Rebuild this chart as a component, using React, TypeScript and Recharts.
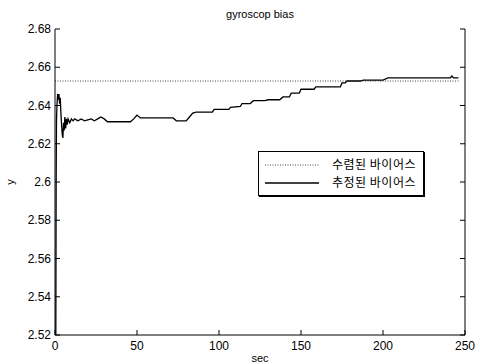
import React from "react";
import { LineChart, Line, XAxis, YAxis } from "recharts";

// time axis (sec) and estimated gyro bias
const estT = [
  0.5, 0.7, 0.9, 1.2, 1.6, 2.0, 2.4, 2.8, 3.2, 3.6, 4.0, 4.4, 4.8, 5.2, 5.6, 6.0, 6.5, 7.0, 7.5, 8.0,
  9, 10, 11, 12, 14, 16, 18, 20, 22, 24, 26, 28, 30, 32, 40, 46, 48, 50, 52, 60, 72, 74, 80, 82,
  84, 86, 96, 97, 106, 107, 113, 114, 119, 121, 128, 130, 137, 139, 143, 144, 149, 150, 158, 159,
  174, 175, 177, 178, 186, 188, 200, 203, 241, 242, 243, 246,
];
const estV = [
  2.52, 2.6, 2.632, 2.64, 2.646, 2.643, 2.646, 2.641, 2.644, 2.636, 2.63, 2.625, 2.623, 2.631,
  2.627, 2.634, 2.628, 2.633, 2.63, 2.633, 2.631, 2.633, 2.632, 2.633, 2.632, 2.633, 2.632, 2.6325,
  2.633, 2.632, 2.633, 2.634, 2.633, 2.6315, 2.6315, 2.6315, 2.633, 2.635, 2.6335, 2.6335, 2.6335,
  2.632, 2.632, 2.634, 2.636, 2.6365, 2.6365, 2.638, 2.638, 2.639, 2.6395, 2.641, 2.641, 2.6425,
  2.6425, 2.643, 2.643, 2.6445, 2.6445, 2.6465, 2.6465, 2.6485, 2.6485, 2.6497, 2.6497, 2.6518,
  2.6518, 2.6528, 2.6528, 2.6533, 2.6533, 2.6544, 2.6544, 2.6554, 2.6544, 2.6544,
];
// converged bias
const convT = [0, 246];
const convV = [2.6528, 2.6528];

const xTicks = [0, 50, 100, 150, 200, 250];
const yTicks = [2.52, 2.54, 2.56, 2.58, 2.6, 2.62, 2.64, 2.66, 2.68];
const legendNames = ["수렴된 바이어스", "추정된 바이어스"];

const estData = estT.map((t, i) => ({ t, v: estV[i] }));
const convData = convT.map((t, i) => ({ t, v: convV[i] }));

const FONT = "'Liberation Sans', Arial, sans-serif";
const KFONT = "'Noto Sans CJK KR', sans-serif";

const BottomTick = (props: any) => {
  const { x, y, payload } = props;
  return (
    <g>
      <line x1={x} y1={y} x2={x} y2={y - 5} stroke="#000" />
      <text x={x} y={y + 15} textAnchor="middle" fontSize={12} fontFamily={FONT} fill="#000">
        {payload.value}
      </text>
    </g>
  );
};

const TopTick = (props: any) => {
  const { x, y } = props;
  return <line x1={x} y1={y} x2={x} y2={y + 5} stroke="#000" />;
};

const LeftTick = (props: any) => {
  const { x, y, payload } = props;
  return (
    <g>
      <line x1={x} y1={y} x2={x + 5} y2={y} stroke="#000" />
      <text x={x - 4} y={y + 4} textAnchor="end" fontSize={12} fontFamily={FONT} fill="#000">
        {Number(payload.value).toFixed(2).replace(/0$/, "").replace(/\.0$/, "")}
      </text>
    </g>
  );
};

const RightTick = (props: any) => {
  const { x, y } = props;
  return <line x1={x} y1={y} x2={x - 5} y2={y} stroke="#000" />;
};

export default function App() {
  return (
    <div style={{ position: "absolute", left: 0, top: 0, width: 480, height: 364, background: "#fff" }}>
      <LineChart width={480} height={364} margin={{ top: 29, right: 0, bottom: 0, left: 0 }}>
        <XAxis
          xAxisId="b"
          dataKey="t"
          type="number"
          domain={[0, 250]}
          ticks={xTicks}
          orientation="bottom"
          height={29}
          tickSize={0}
          tickMargin={0}
          tickLine={false}
          tick={<BottomTick />}
          axisLine={{ stroke: "#000" }}
          allowDataOverflow
        />
        <XAxis
          xAxisId="t"
          dataKey="t"
          type="number"
          domain={[0, 250]}
          ticks={xTicks}
          orientation="top"
          height={0}
          tickSize={0}
          tickMargin={0}
          tickLine={false}
          tick={<TopTick />}
          axisLine={{ stroke: "#000" }}
          allowDataOverflow
        />
        <YAxis
          yAxisId="l"
          type="number"
          domain={[2.52, 2.68]}
          ticks={yTicks}
          orientation="left"
          width={55}
          tickSize={0}
          tickMargin={0}
          tickLine={false}
          tick={<LeftTick />}
          axisLine={{ stroke: "#000" }}
          allowDataOverflow
        />
        <YAxis
          yAxisId="r"
          type="number"
          domain={[2.52, 2.68]}
          ticks={yTicks}
          orientation="right"
          width={15}
          tickSize={0}
          tickMargin={0}
          tickLine={false}
          tick={<RightTick />}
          axisLine={{ stroke: "#000" }}
          allowDataOverflow
        />
        <Line
          xAxisId="b"
          yAxisId="l"
          data={convData}
          dataKey="v"
          type="linear"
          stroke="#444"
          strokeWidth={1}
          strokeDasharray="1 1.5"
          dot={false}
          isAnimationActive={false}
        />
        <Line
          xAxisId="b"
          yAxisId="l"
          data={estData}
          dataKey="v"
          type="linear"
          stroke="#000"
          strokeWidth={1.3}
          dot={false}
          isAnimationActive={false}
        />
        <text x={260} y={18} textAnchor="middle" fontSize={11} fontFamily={FONT} fill="#000">
          gyroscop bias
        </text>
        <text x={260} y={362} textAnchor="middle" fontSize={11} fontFamily={FONT} fill="#000">
          sec
        </text>
        <text
          x={14}
          y={182}
          textAnchor="middle"
          fontSize={11}
          fontFamily={FONT}
          fill="#000"
          transform="rotate(-90 14 182)"
        >
          y
        </text>
      </LineChart>
      <div
        style={{
          position: "absolute",
          left: 258,
          top: 151,
          width: 164,
          height: 43,
          border: "1px solid #000",
          boxShadow: "1px 1px 0 #000",
          background: "#fff",
          fontFamily: KFONT,
          fontSize: 12,
          color: "#000",
        }}
      >
        {legendNames.map((name, i) => (
          <div key={name} style={{ position: "absolute", left: 0, top: 4 + i * 18, height: 16, width: 164 }}>
            <svg width={60} height={16} style={{ position: "absolute", left: 6, top: 0 }}>
              <line
                x1={0}
                y1={9}
                x2={54}
                y2={9}
                stroke={i === 0 ? "#444" : "#000"}
                strokeWidth={i === 0 ? 1 : 1.3}
                strokeDasharray={i === 0 ? "1 1.5" : undefined}
              />
            </svg>
            <span style={{ position: "absolute", left: 73, top: 0, lineHeight: "16px", letterSpacing: 0.5 }}>
              {name}
            </span>
          </div>
        ))}
      </div>
    </div>
  );
}
